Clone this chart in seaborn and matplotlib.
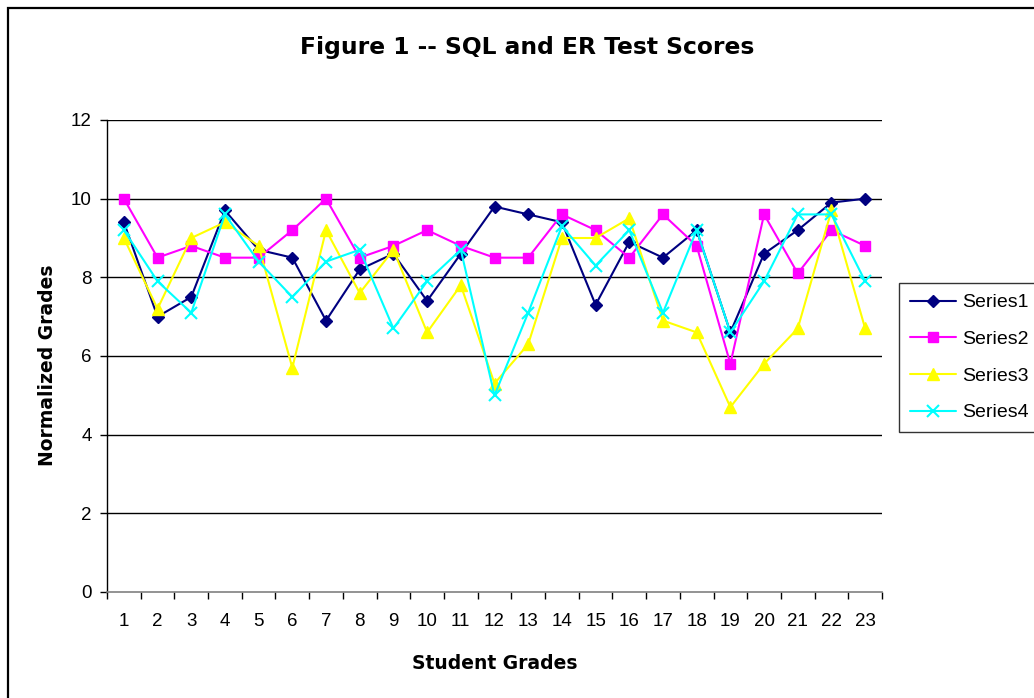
import numpy as np
import pandas as pd
import matplotlib
matplotlib.use("Agg")
import matplotlib.pyplot as plt
from matplotlib.patches import Rectangle
from matplotlib.ticker import FixedLocator
from matplotlib.lines import Line2D
import seaborn as sns

students = list(range(1, 24))
series1 = [9.4, 7.0, 7.5, 9.7, 8.7, 8.5, 6.9, 8.2, 8.6, 7.4, 8.6, 9.8, 9.6, 9.4, 7.3, 8.9, 8.5, 9.2, 6.6, 8.6, 9.2, 9.9, 10.0]
series2 = [10.0, 8.5, 8.8, 8.5, 8.5, 9.2, 10.0, 8.5, 8.8, 9.2, 8.8, 8.5, 8.5, 9.6, 9.2, 8.5, 9.6, 8.8, 5.8, 9.6, 8.1, 9.2, 8.8]
series3 = [9.0, 7.2, 9.0, 9.4, 8.8, 5.7, 9.2, 7.6, 8.7, 6.6, 7.8, 5.3, 6.3, 9.0, 9.0, 9.5, 6.9, 6.6, 4.7, 5.8, 6.7, 9.7, 6.7]
series4 = [9.2, 7.9, 7.1, 9.6, 8.4, 7.5, 8.4, 8.7, 6.7, 7.9, 8.7, 5.0, 7.1, 9.3, 8.3, 9.2, 7.1, 9.2, 6.6, 7.9, 9.6, 9.6, 7.9]
series_names = ["Series1", "Series2", "Series3", "Series4"]
series_values = [series1, series2, series3, series4]

sns.set_style("white")
plt.rcParams["font.family"] = ["Liberation Sans", "DejaVu Sans"]
plt.rcParams["text.color"] = "black"
plt.rcParams["axes.labelcolor"] = "black"
plt.rcParams["xtick.color"] = "black"
plt.rcParams["ytick.color"] = "black"
BOLD_FAMILY = ["DejaVu Sans"]

fig = plt.figure(figsize=(10.34, 6.98), dpi=100)
ax = fig.add_axes([107 / 1034, 1 - 592 / 698, (882 - 107) / 1034, (592 - 120) / 698])

palette = {"Series1": "#000080", "Series2": "#FF00FF", "Series3": "#FFFF00", "Series4": "#00FFFF"}
markers = {"Series1": "D", "Series2": "s", "Series3": "^", "Series4": "x"}
sizes_m = {"Series1": 6.5, "Series2": 7.5, "Series3": 8.5, "Series4": 9}

for name, vals in zip(series_names, series_values):
    d = pd.DataFrame({"Student": students, "Grade": vals})
    sns.lineplot(data=d, x="Student", y="Grade", color=palette[name], marker=markers[name],
                 markersize=sizes_m[name], markerfacecolor=palette[name], markeredgecolor=palette[name],
                 markeredgewidth=1.5 if name == "Series4" else 1.0,
                 linewidth=1.5, ax=ax, legend=False, zorder=3)

ax.set_xlim(0.5, 23.5)
ax.set_ylim(0, 12)
ax.set_yticks(np.arange(0, 13, 2))
ax.set_xticks(students)
ax.xaxis.set_minor_locator(FixedLocator(np.arange(0.5, 24, 1)))
ax.tick_params(axis="x", which="major", length=0, pad=15, labelsize=13.5, labelcolor="black")
ax.tick_params(axis="x", which="minor", length=5, width=1, color="black", direction="out", bottom=True)
ax.tick_params(axis="y", which="major", length=5, width=1, color="black", direction="out", left=True,
               labelsize=13.5, pad=6, labelcolor="black")

for y in range(2, 13, 2):
    ax.axhline(y, color="black", linewidth=1, zorder=1)

for s in ["top", "right"]:
    ax.spines[s].set_visible(False)
ax.spines["left"].set_color("black")
ax.spines["bottom"].set_color("#808080")
ax.spines["left"].set_linewidth(1)
ax.spines["bottom"].set_linewidth(1.2)

ax.set_xlabel("Student Grades", fontsize=13.5, fontweight="bold", family=BOLD_FAMILY, color="black")
ax.set_ylabel("Normalized Grades", fontsize=13.5, fontweight="bold", family=BOLD_FAMILY, color="black")
ax.xaxis.label.set_va("baseline")
ax.xaxis.set_label_coords(0.5, -(669 - 592) / 472)
ax.yaxis.label.set_va("baseline")
ax.yaxis.set_label_coords((53 - 107) / 775, (592 - 365) / 472)

fig.suptitle("Figure 1 -- SQL and ER Test Scores", fontsize=16.8, fontweight="bold", family=BOLD_FAMILY,
             color="black", x=527 / 1034, y=1 - 54 / 698, va="baseline")

handles = []
for name in series_names:
    handles.append(Line2D([0], [0], color=palette[name], marker=markers[name], markersize=sizes_m[name],
                          markerfacecolor=palette[name], markeredgecolor=palette[name],
                          markeredgewidth=1.5 if name == "Series4" else 1.0, linewidth=1.5))
leg = fig.legend(handles, series_names, loc="upper left", bbox_to_anchor=(899 / 1034, 1 - 283 / 698),
                 fontsize=14, frameon=True, fancybox=False, shadow=False, handlelength=2.4,
                 handletextpad=0.3, labelspacing=0.98, borderpad=0.55, borderaxespad=0)
leg.get_frame().set_edgecolor("black")
leg.get_frame().set_linewidth(1)
for t in leg.get_texts():
    t.set_color("black")

fig.add_artist(Rectangle((7.5 / 1034, -0.1), 1.2, 1 + 0.1 - 8 / 698, transform=fig.transFigure,
                         fill=False, edgecolor="black", linewidth=1.6, clip_on=False))

fig.savefig("out.png", dpi=100)
